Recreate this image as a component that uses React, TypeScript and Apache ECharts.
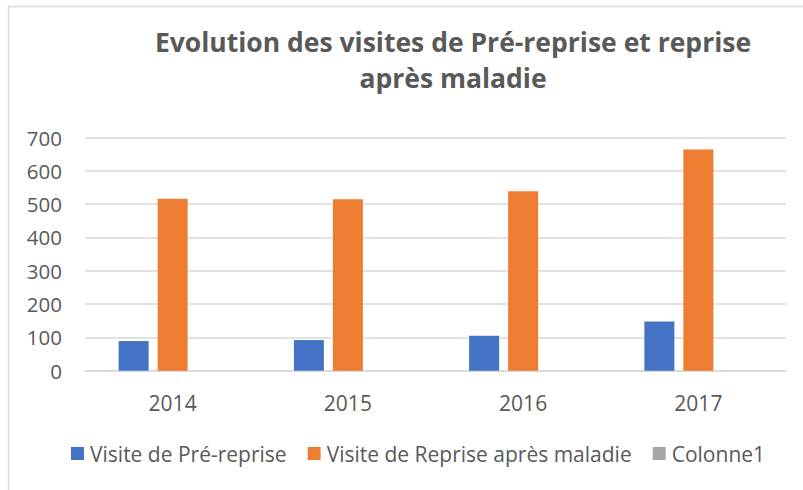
import React, { useEffect, useRef } from "react";
import * as echarts from "echarts";

const categories = ["2014", "2015", "2016", "2017"];
const preReprise = [89, 92, 105, 148];
const repriseMaladie = [516, 515, 539, 664];
const colonne1 = [0, 0, 0, 0];
const yTicks = { min: 0, max: 700, interval: 100 };

const FONT = "'Open Sans', sans-serif";
const TXT = "#595959";

const titleStyle = {
  fontFamily: FONT,
  fontWeight: "bold",
  fontSize: 26.5,
  lineHeight: 32,
  color: TXT,
};

export default function App() {
  const ref = useRef<HTMLDivElement>(null);
  useEffect(() => {
    if (!ref.current) return;
    const chart = echarts.init(ref.current, null, { renderer: "svg" });
    chart.setOption({
      animation: false,
      backgroundColor: "#ffffff",
      textStyle: { fontFamily: FONT },
      title: {
        text: "Evolution des visites de Pré-reprise et reprise",
        subtext: "après maladie",
        left: 448,
        top: 21,
        itemGap: 4,
        textAlign: "center",
        textStyle: titleStyle,
        subtextStyle: titleStyle,
      },
      graphic: [
        {
          type: "rect",
          shape: { x: 8.5, y: 6.5, width: 900, height: 600 },
          style: { fill: "none", stroke: "#d9d9d9", lineWidth: 1.5 },
          silent: true,
        },
      ],
      legend: {
        left: 71,
        top: 443,
        padding: 0,
        itemWidth: 13,
        itemHeight: 13,
        itemGap: 21,
        icon: "rect",
        textStyle: { fontFamily: FONT, fontSize: 21, color: TXT, padding: [0, 0, 0, 1] },
        data: ["Visite de Pré-reprise", "Visite de Reprise après maladie", "Colonne1"],
      },
      grid: { left: 85, right: 17, top: 137.5, bottom: 119.3, containLabel: false },
      xAxis: {
        type: "category",
        data: categories,
        axisLine: { show: true, lineStyle: { color: "#d9d9d9", width: 1.5 } },
        axisTick: { show: false },
        axisLabel: { color: TXT, fontSize: 21, fontFamily: FONT, margin: 22 },
      },
      yAxis: {
        type: "value",
        min: yTicks.min,
        max: yTicks.max,
        interval: yTicks.interval,
        axisLine: { show: false },
        axisTick: { show: false },
        axisLabel: { color: TXT, fontSize: 20.5, fontFamily: FONT, margin: 23 },
        splitLine: { lineStyle: { color: "#d9d9d9", width: 1.5 } },
      },
      series: [
        {
          name: "Visite de Pré-reprise",
          type: "bar",
          data: preReprise,
          barWidth: 30,
          barGap: "30%",
          itemStyle: { color: "#4472C4" },
        },
        {
          name: "Visite de Reprise après maladie",
          type: "bar",
          data: repriseMaladie,
          barWidth: 30,
          barGap: "30%",
          itemStyle: { color: "#ED7D31" },
        },
        {
          name: "Colonne1",
          type: "bar",
          data: colonne1,
          barWidth: 30,
          barGap: "30%",
          itemStyle: { color: "#A5A5A5" },
        },
      ],
    });
    return () => chart.dispose();
  }, []);
  return (
    <div
      ref={ref}
      style={{ position: "absolute", left: 0, top: 0, width: 803, height: 490 }}
    />
  );
}
